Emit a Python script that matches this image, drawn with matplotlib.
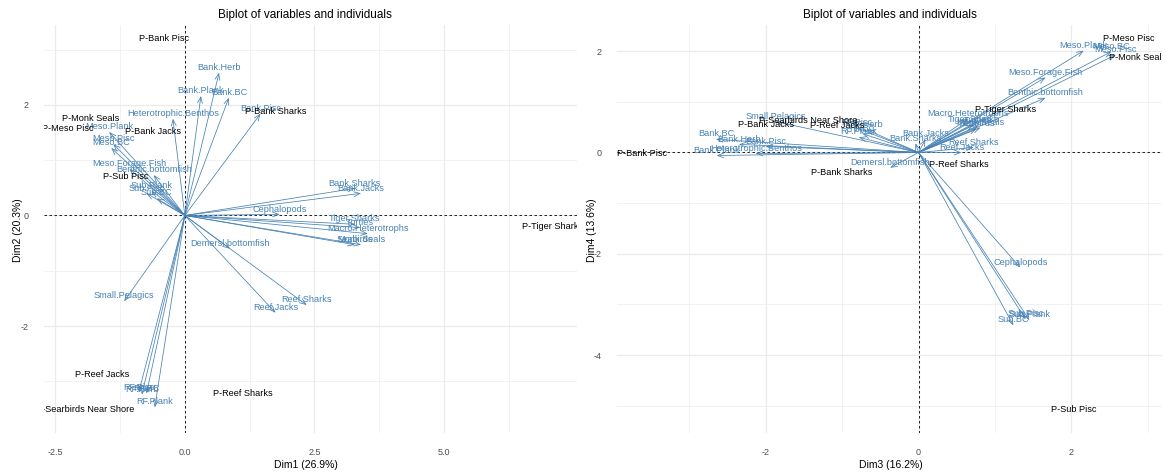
import matplotlib.pyplot as plt
import numpy as np

plt.rcParams['font.family'] = ['Liberation Sans', 'DejaVu Sans']
plt.rcParams['axes.unicode_minus'] = False

# variables (arrows), coordinates already scaled to the individuals
var_names = ['Bank.Herb', 'Bank.Plank', 'Bank.BC', 'Bank.Pisc', 'Bank.Sharks', 'Bank.Jacks',
             'Heterotrophic.Benthos', 'Meso.Plank', 'Meso.Pisc', 'Meso.BC', 'Meso.Forage.Fish',
             'Benthic.bottomfish', 'Sub.Plank', 'Sub.Pisc', 'Sub.BC', 'Cephalopods',
             'Tiger.Sharks', 'Turtles', 'Macro.Heterotrophs', 'Monk.Seals', 'Seabirds',
             'Demersl.bottomfish', 'Small.Pelagics', 'Reef.Sharks', 'Reef.Jacks',
             'RF.Herb', 'RF.BC', 'RF.Pisc', 'RF.Plank']
var_dim1 = [0.66, 0.31, 0.85, 1.46, 3.28, 3.40, -0.23, -1.46, -1.38, -1.42, -1.07,
            -0.60, -0.64, -0.74, -0.54, 1.83, 3.28, 3.38, 3.53, 3.40, 3.28,
            0.87, -1.17, 2.35, 1.75, -0.83, -0.74, -0.89, -0.58]
var_dim2 = [2.58, 2.16, 2.13, 1.84, 0.49, 0.40, 1.75, 1.51, 1.29, 1.22, 0.84,
            0.73, 0.44, 0.40, 0.31, 0.02, -0.16, -0.22, -0.33, -0.53, -0.53,
            -0.60, -1.55, -1.62, -1.76, -3.24, -3.22, -3.20, -3.47]
var_dim3 = [-2.35, -2.64, -2.65, -2.00, -0.04, 0.09, -2.13, 2.16, 2.58, 2.52, 1.66,
            1.66, 1.45, 1.40, 1.24, 1.33, 0.72, 0.78, 0.65, 0.81, 0.76,
            -0.37, -1.87, 0.72, 0.56, -0.68, -0.73, -0.81, -0.78]
var_dim4 = [0.16, -0.06, 0.26, 0.12, 0.18, 0.26, -0.02, 2.01, 1.93, 1.99, 1.48,
            1.08, -3.31, -3.29, -3.41, -2.27, 0.55, 0.53, 0.67, 0.49, 0.47,
            -0.30, 0.61, 0.10, 0.00, 0.45, 0.37, 0.49, 0.30]

# individuals (text only)
ind_names = ['P-Bank Pisc', 'P-Monk Seals', 'P-Meso Pisc', 'P-Bank Jacks', 'P-Sub Pisc',
             'P-Bank Sharks', 'P-Tiger Sharks', 'P-Reef Jacks', 'P-Searbirds Near Shore',
             'P-Reef Sharks']
ind_dim1 = [-0.41, -1.81, -2.25, -0.62, -1.15, 1.75, 7.10, -1.59, -1.93, 1.11]
ind_dim2 = [3.11, 1.65, 1.47, 1.42, 0.60, 1.78, -0.29, -2.98, -3.60, -3.31]
ind_dim3 = [-3.62, 2.86, 2.75, -2.00, 2.03, -1.00, 1.14, -1.07, -1.44, 0.52]
ind_dim4 = [-0.12, 1.76, 2.15, 0.45, -5.17, -0.51, 0.75, 0.43, 0.53, -0.34]

var_col = 'steelblue'
grid_col = '#EBEBEB'


def limits(vals):
    lo, hi = min(min(vals), 0), max(max(vals), 0)
    pad = 0.05 * (hi - lo)
    return lo - pad, hi + pad


def biplot(ax, vx, vy, ix, iy, xmaj, xmin, ymaj, ymin):
    ax.set_xlim(limits(vx + ix))
    ax.set_ylim(limits(vy + iy))
    ax.set_xticks(xmaj)
    ax.set_xticks(xmin, minor=True)
    ax.set_yticks(ymaj)
    ax.set_yticks(ymin, minor=True)
    ax.grid(which='major', color=grid_col, lw=0.9)
    ax.grid(which='minor', color=grid_col, lw=0.45)
    ax.set_axisbelow(True)
    for s in ax.spines.values():
        s.set_visible(False)
    ax.tick_params(which='both', length=0, labelsize=6.5, labelcolor='#4D4D4D', pad=11)
    ax.axhline(0, color='black', lw=0.6, ls=(0, (3, 3)), zorder=1)
    ax.axvline(0, color='black', lw=0.6, ls=(0, (3, 3)), zorder=1)

    for name, x, y in zip(var_names, vx, vy):
        ax.annotate('', xy=(x, y), xytext=(0, 0),
                    arrowprops=dict(arrowstyle='->,head_length=0.55,head_width=0.22',
                                    color=var_col, lw=0.55, shrinkA=0, shrinkB=0,
                                    mutation_scale=8), zorder=2)
        ax.annotate(name, (x, y), xytext=(0, 0.6), textcoords='offset points',
                    ha='center', va='bottom', fontsize=6.6, color=var_col,
                    annotation_clip=False, clip_on=True, zorder=3)

    for name, x, y in zip(ind_names, ix, iy):
        ax.annotate(name, (x, y), xytext=(0, 0.6), textcoords='offset points',
                    ha='center', va='bottom', fontsize=6.6, color='black',
                    annotation_clip=False, clip_on=True, zorder=4)


fig = plt.figure(figsize=(11.66, 4.74), dpi=100)
W, H = 1166, 474

ax1 = fig.add_axes([44 / W, 41 / H, 533 / W, 408 / H])
biplot(ax1, var_dim1, var_dim2, ind_dim1, ind_dim2,
       [-2.5, 0, 2.5, 5.0], [-1.25, 1.25, 3.75, 6.25], [-2, 0, 2], [-3, -1, 1, 3])
ax1.set_xticklabels(['-2.5', '0.0', '2.5', '5.0'])

ax2 = fig.add_axes([617 / W, 41 / H, 545 / W, 408 / H])
biplot(ax2, var_dim3, var_dim4, ind_dim3, ind_dim4,
       [-2, 0, 2], [-3, -1, 1, 3], [-4, -2, 0, 2], [-5, -3, -1, 1])

title = 'Biplot of variables and individuals'
fig.text(305 / W, 1 - 15 / H, title, ha='center', va='center', fontsize=8.5)
fig.text(890 / W, 1 - 15 / H, title, ha='center', va='center', fontsize=8.5)
fig.text(306 / W, 1 - 465 / H, 'Dim1 (26.9%)', ha='center', va='center', fontsize=7.5)
fig.text(891 / W, 1 - 465 / H, 'Dim3 (16.2%)', ha='center', va='center', fontsize=7.5)
fig.text(18 / W, 1 - 230 / H, 'Dim2 (20.3%)', ha='center', va='center', fontsize=7.5, rotation=90)
fig.text(592 / W, 1 - 230 / H, 'Dim4 (13.6%)', ha='center', va='center', fontsize=7.5, rotation=90)

fig.savefig('out.png', dpi=100, facecolor='white')
